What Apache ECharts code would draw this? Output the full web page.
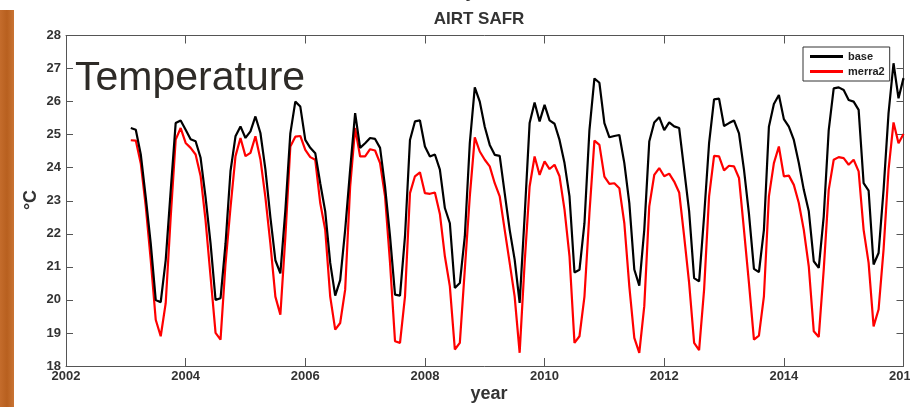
<!DOCTYPE html>
<html>
<head>
<meta charset="utf-8">
<script src="https://cdn.jsdelivr.net/npm/echarts@6/dist/echarts.min.js"></script>
<style>
html, body { margin: 0; padding: 0; background: #fff; }
#chart { width: 910px; height: 407px; }
</style>
</head>
<body>
<div id="chart"></div>
<script>
// monthly series, Jan 2003 .. Dec 2015
let startYear = 2003;
let seriesNames = ["base", "merra2"];
let baseData = [
    25.2, 25.15, 24.4, 23.1, 21.7, 20.0, 19.93, 21.2, 23.3, 25.35, 25.43, 25.15,
    24.86, 24.8, 24.3, 23.1, 21.7, 20.0, 20.05, 21.7, 23.9, 24.95, 25.25, 24.9,
    25.1, 25.55, 25.05, 23.95, 22.5, 21.2, 20.8, 22.7, 25.04, 26.0, 25.85, 24.84,
    24.6, 24.44, 23.53, 22.68, 21.12, 20.13, 20.6, 22.12, 23.94, 25.65, 24.6, 24.74,
    24.9, 24.87, 24.6, 23.43, 21.92, 20.16, 20.13, 21.92, 24.84, 25.4, 25.43, 24.64,
    24.34, 24.4, 23.94, 22.78, 22.32, 20.36, 20.51, 21.92, 24.74, 26.43, 26.0, 25.24,
    24.69, 24.39, 24.36, 23.23, 22.12, 21.22, 19.91, 22.53, 25.35, 25.97, 25.4, 25.9,
    25.43, 25.33, 24.84, 24.14, 23.13, 20.83, 20.91, 22.32, 25.14, 26.7, 26.57, 25.35,
    24.92, 24.96, 24.99, 24.14, 22.93, 20.92, 20.43, 22.12, 24.79, 25.37, 25.53, 25.14,
    25.37, 25.25, 25.2, 23.94, 22.68, 20.66, 20.56, 22.53, 24.74, 26.07, 26.09, 25.26,
    25.35, 25.43, 25.04, 23.94, 22.6, 20.94, 20.84, 22.12, 25.24, 25.93, 26.2, 25.47,
    25.24, 24.84, 24.14, 23.33, 22.68, 21.17, 20.97, 22.53, 25.14, 26.4, 26.43, 26.35,
    26.05, 26.0, 25.75, 23.53, 23.31, 21.07, 21.42, 23.33, 25.65, 27.16, 26.1, 26.71
];
let merraData = [
    24.83, 24.82, 24.13, 22.83, 21.2, 19.4, 18.9, 19.9, 22.5, 24.85, 25.2, 24.75,
    24.6, 24.4, 23.75, 22.4, 20.7, 19.0, 18.8, 21.1, 22.8, 24.35, 24.9, 24.35,
    24.45, 24.95, 24.25, 23.1, 21.7, 20.1, 19.55, 21.9, 24.64, 24.94, 24.96, 24.54,
    24.32, 24.24, 22.93, 22.12, 20.1, 19.1, 19.3, 20.31, 23.43, 25.2, 24.34, 24.34,
    24.56, 24.52, 24.14, 23.13, 21.12, 18.75, 18.7, 20.1, 23.23, 23.74, 23.86, 23.23,
    23.21, 23.25, 22.6, 21.32, 20.41, 18.5, 18.7, 20.92, 23.13, 24.92, 24.49, 24.24,
    24.04, 23.53, 23.13, 22.12, 21.12, 20.1, 18.4, 21.12, 23.43, 24.34, 23.78, 24.19,
    23.96, 24.09, 23.74, 22.73, 21.32, 18.7, 18.9, 20.1, 22.63, 24.82, 24.69, 23.73,
    23.51, 23.53, 23.38, 22.32, 20.41, 18.85, 18.4, 19.81, 22.83, 23.78, 23.99, 23.74,
    23.82, 23.58, 23.25, 21.92, 20.51, 18.7, 18.48, 20.31, 23.13, 24.36, 24.34, 23.92,
    24.06, 24.04, 23.69, 22.12, 20.51, 18.8, 18.92, 20.11, 23.13, 24.14, 24.64, 23.74,
    23.76, 23.48, 22.93, 22.12, 21.01, 19.05, 18.88, 20.92, 23.33, 24.24, 24.32, 24.29,
    24.09, 24.24, 23.89, 22.12, 21.12, 19.2, 19.71, 21.52, 23.94, 25.37, 24.74, 25.02
];
let xMin = 2002, xMax = 2016, xStep = 2;
let yMin = 18, yMax = 28, yStep = 1;

function toPairs(values){
    let out = [];
    for(let i = 0; i < values.length; i++){
        out.push([startYear + (i + 1) / 12, values[i]]);
    }
    return out;
}

let chartDOM = document.getElementById("chart");
let chart = echarts.init(chartDOM);

let axisColor = "#555";
let fontName = "Liberation Sans, Arial, sans-serif";
let labelStyle = {
    color: "#333",
    fontSize: 13,
    fontWeight: "bold",
    fontFamily: fontName
};

let opts = {
    animation: false,
    backgroundColor: "#fff",
    grid: {
        left: 66,
        right: 6.5,
        top: 35.5,
        bottom: 41,
        containLabel: false,
        outerBoundsMode: "none"
    },
    legend: {
        data: [
            { name: seriesNames[0], icon: "rect" },
            { name: seriesNames[1], icon: "rect" }
        ],
        orient: "vertical",
        left: 803,
        top: 47,
        itemWidth: 33,
        itemHeight: 3,
        itemGap: 4,
        padding: [4, 5, 4, 7],
        borderColor: "#333",
        borderWidth: 1,
        backgroundColor: "#fff",
        textStyle: {
            color: "#222",
            fontSize: 11,
            fontWeight: "bold",
            fontFamily: fontName
        }
    },
    xAxis: [{
        type: "value",
        min: xMin,
        max: xMax,
        interval: xStep,
        position: "bottom",
        axisLine: { show: true, lineStyle: { color: axisColor, width: 1 } },
        axisTick: { show: true, inside: true, length: 8, lineStyle: { color: axisColor } },
        axisLabel: Object.assign({ margin: 4, formatter: function(v){ return String(v); } }, labelStyle),
        splitLine: { show: false }
    }, {
        type: "value",
        min: xMin,
        max: xMax,
        interval: xStep,
        position: "top",
        axisLine: { show: true, lineStyle: { color: axisColor, width: 1 } },
        axisTick: { show: true, inside: true, length: 8, lineStyle: { color: axisColor } },
        axisLabel: { show: false },
        splitLine: { show: false }
    }],
    yAxis: [{
        type: "value",
        min: yMin,
        max: yMax,
        interval: yStep,
        position: "left",
        axisLine: { show: true, lineStyle: { color: axisColor, width: 1 } },
        axisTick: { show: true, inside: true, length: 7, lineStyle: { color: axisColor } },
        axisLabel: Object.assign({ margin: 5 }, labelStyle),
        splitLine: { show: false }
    }, {
        type: "value",
        min: yMin,
        max: yMax,
        interval: yStep,
        position: "right",
        axisLine: { show: true, lineStyle: { color: axisColor, width: 1 } },
        axisTick: { show: true, inside: true, length: 7, lineStyle: { color: axisColor } },
        axisLabel: { show: false },
        splitLine: { show: false }
    }],
    series: [{
        name: seriesNames[0],
        type: "line",
        data: toPairs(baseData),
        symbol: "none",
        itemStyle: { color: "#000" },
        lineStyle: { color: "#000", width: 2.2 },
        z: 3
    }, {
        name: seriesNames[1],
        type: "line",
        data: toPairs(merraData),
        symbol: "none",
        itemStyle: { color: "#ff0000" },
        lineStyle: { color: "#ff0000", width: 2.2 },
        z: 2
    }],
    graphic: [{
        type: "rect",
        shape: { x: 0, y: 10, width: 14, height: 397 },
        style: {
            fill: {
                type: "linear", x: 0, y: 0, x2: 1, y2: 0,
                colorStops: [
                    { offset: 0, color: "#c46c2c" },
                    { offset: 0.5, color: "#b8601f" },
                    { offset: 1, color: "#c97434" }
                ]
            }
        },
        z: 0
    }, {
        type: "text",
        style: {
            text: "year",
            x: 484, y: -8,
            align: "center", verticalAlign: "middle",
            fontSize: 18, fontWeight: "bold", fill: "#333",
            fontFamily: fontName
        }
    }, {
        type: "text",
        style: {
            text: "AIRT SAFR",
            x: 479, y: 19,
            align: "center", verticalAlign: "middle",
            fontSize: 17, fontWeight: "bold", fill: "#333",
            fontFamily: fontName
        }
    }, {
        type: "text",
        style: {
            text: "year",
            x: 489, y: 394,
            align: "center", verticalAlign: "middle",
            fontSize: 18, fontWeight: "bold", fill: "#333",
            fontFamily: fontName
        }
    }, {
        type: "text",
        x: 31, y: 200,
        rotation: Math.PI / 2,
        style: {
            text: "°C",
            x: 0, y: 0,
            align: "center", verticalAlign: "middle",
            fontSize: 18, fontWeight: "bold", fill: "#333",
            fontFamily: fontName
        }
    }, {
        type: "text",
        style: {
            text: "Temperature",
            x: 75, y: 79,
            align: "left", verticalAlign: "middle",
            fontSize: 41, fill: "#2e2b27",
            fontFamily: fontName
        },
        z: 10
    }]
};
chart.setOption(opts);
</script>
</body>
</html>
